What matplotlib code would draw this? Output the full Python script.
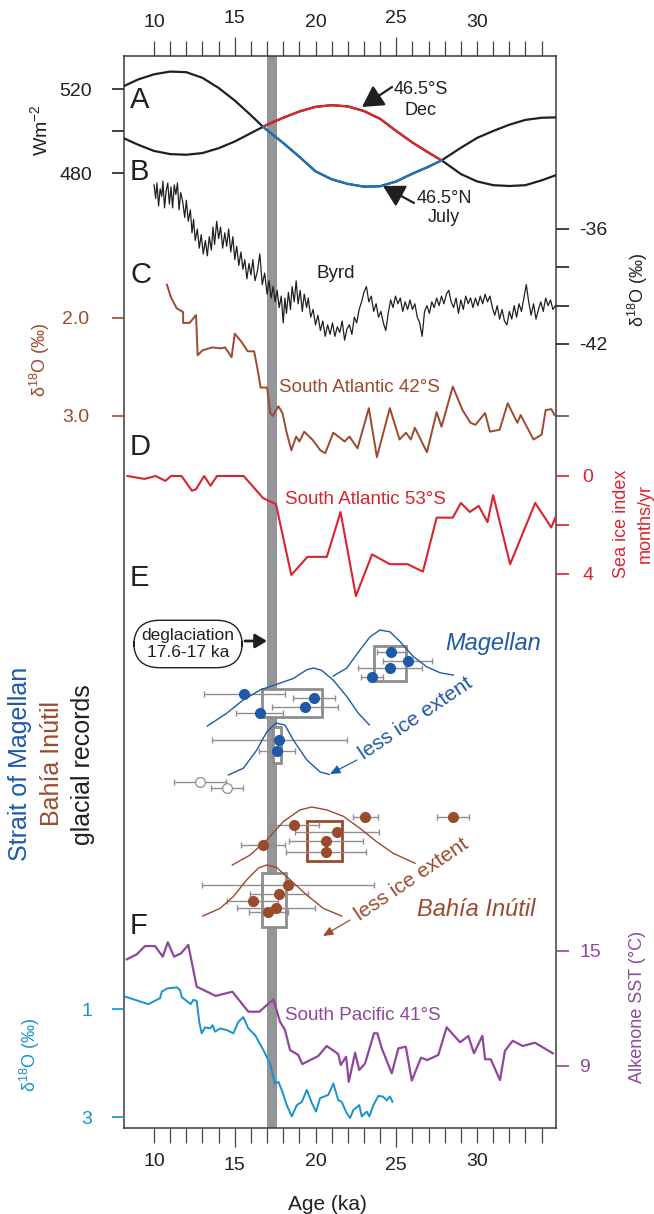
import numpy as np
import matplotlib.pyplot as plt
from matplotlib.patches import Rectangle

plt.rcParams['font.family'] = ['Liberation Sans', 'DejaVu Sans']
plt.rcParams['mathtext.fontset'] = 'custom'
plt.rcParams['mathtext.rm'] = 'Liberation Sans'
plt.rcParams['mathtext.it'] = 'Liberation Sans:italic'
plt.rcParams['mathtext.default'] = 'regular'

# ---------------- data ----------------
# A/B insolation (W m-2)
sdec_age = [8.14, 9, 10, 11, 12, 13, 14, 15, 16, 16.75, 17, 18, 19, 20, 21, 22, 23, 24, 25, 26,
            27, 27.8, 28, 29, 30, 31, 32, 33, 34, 34.9]
sdec_val = [496.5, 493.5, 490.5, 489, 488.7, 489.5, 491.8, 495, 499, 502, 503, 506.3, 509.3, 511.5,
            512.3, 511.7, 509.5, 505.8, 500, 494.5, 489.7, 486, 485, 479.5, 476, 474.2, 473.8,
            474.2, 476.5, 479]
njul_age = sdec_age
njul_val = [521.4, 524.5, 527, 528.3, 528, 525.3, 520.5, 514.5, 507.5, 502, 500.4, 494.3, 487.7,
            480.8, 477, 474.8, 473.5, 473.7, 476, 479.7, 483, 486, 487, 492, 496.7, 500, 503,
            505.3, 506.3, 506.5]
ins_cross = (16.75, 27.8)

# C Byrd d18O (permil)
byrd_age = [10.00, 10.10, 10.18, 10.28, 10.38, 10.48, 10.55, 10.65, 10.75, 10.85, 10.95, 11.05,
            11.15, 11.25, 11.35, 11.45, 11.55, 11.65, 11.78, 11.90, 12.00, 12.12, 12.25, 12.35,
            12.45, 12.55, 12.68, 12.80, 12.92, 13.05, 13.18, 13.30, 13.42, 13.55, 13.65, 13.75,
            13.88, 14.00, 14.12, 14.25, 14.38, 14.50, 14.62, 14.75, 14.88, 15.00, 15.12, 15.25,
            15.38, 15.50, 15.62, 15.75, 15.88, 16.00, 16.12, 16.25, 16.40, 16.55, 16.70, 16.85,
            17.00, 17.12, 17.25, 17.38, 17.50, 17.62, 17.75, 17.88, 18.00, 18.10, 18.20, 18.32,
            18.45, 18.55, 18.68, 18.80, 18.92, 19.05, 19.18, 19.30, 19.45, 19.55, 19.70, 19.85,
            20.00, 20.15, 20.30, 20.45, 20.60, 20.75, 20.90, 21.05, 21.20, 21.35, 21.50, 21.65,
            21.80, 21.95, 22.10, 22.25, 22.40, 22.55, 22.70, 22.85, 23.00, 23.15, 23.30, 23.45,
            23.60, 23.75, 23.90, 24.05, 24.20, 24.35, 24.50, 24.65, 24.80, 24.95, 25.10, 25.25,
            25.40, 25.55, 25.70, 25.85, 26.00, 26.15, 26.30, 26.45, 26.60, 26.75, 26.90, 27.05,
            27.20, 27.35, 27.50, 27.65, 27.80, 27.95, 28.10, 28.25, 28.40, 28.55, 28.70, 28.85,
            29.00, 29.15, 29.30, 29.45, 29.60, 29.75, 29.90, 30.05, 30.20, 30.35, 30.50, 30.65,
            30.80, 30.95, 31.10, 31.25, 31.40, 31.55, 31.70, 31.85, 32.00, 32.15, 32.30, 32.45,
            32.60, 32.75, 32.90, 33.05, 33.20, 33.35, 33.50, 33.65, 33.80, 33.95, 34.10, 34.25,
            34.40, 34.55, 34.70, 34.85]
byrd_val = [-33.7, -34.4, -33.6, -34.8, -33.9, -34.3, -33.5, -34.9, -34.0, -33.6, -34.7, -33.8,
            -34.9, -33.7, -34.2, -33.6, -35.0, -34.1, -34.6, -35.4, -34.5, -35.6, -35.0, -36.2,
            -35.5, -36.6, -36.0, -37.0, -36.3, -37.3, -36.6, -37.4, -36.4, -37.1, -35.9, -36.8,
            -35.6, -36.5, -35.9, -37.0, -36.2, -36.9, -36.0, -37.2, -36.4, -37.6, -36.9, -37.9,
            -37.2, -38.1, -37.6, -38.6, -37.8, -38.4, -37.6, -38.7, -38.2, -37.3, -38.9, -38.3,
            -39.4, -38.7, -39.6, -39.0, -39.8, -39.2, -40.1, -39.5, -40.9, -39.6, -40.4, -39.3,
            -40.2, -39.0, -39.8, -38.7, -39.9, -39.2, -40.3, -39.4, -40.1, -39.6, -40.6, -40.2,
            -41.0, -40.5, -41.3, -40.8, -41.6, -41.0, -41.5, -40.9, -41.6, -41.1, -41.4, -40.8,
            -41.8, -41.2, -41.0, -41.5, -40.6, -40.9, -40.2, -39.8, -39.3, -39.0, -39.8, -39.5,
            -40.3, -39.9, -40.6, -40.3, -40.9, -41.3, -40.4, -39.7, -40.1, -39.5, -39.9, -39.6,
            -40.3, -39.8, -40.2, -39.7, -40.2, -39.9, -40.6, -40.9, -41.6, -40.3, -40.0, -40.4,
            -39.8, -40.1, -39.6, -40.0, -39.5, -39.9, -39.4, -39.2, -39.8, -40.1, -39.6, -40.4,
            -39.7, -40.2, -39.5, -39.9, -39.6, -40.1, -39.6, -40.0, -39.5, -39.9, -39.4, -39.8,
            -39.5, -40.1, -40.5, -40.0, -40.7, -40.2, -40.8, -41.0, -40.3, -40.7, -40.0, -40.6,
            -39.9, -40.3, -39.6, -38.9, -39.8, -40.5, -39.9, -40.7, -40.2, -39.8, -40.3, -39.6,
            -40.0, -39.7, -40.2, -40.0]

# South Atlantic 42S benthic d18O (permil)
sa42_age = [10.8, 11.05, 11.4, 11.8, 11.8, 12.2, 12.6, 12.7, 13.0, 13.6, 14.15, 14.4, 14.8, 15.0,
            15.4, 15.8, 16.2, 16.45, 16.6, 17.0, 17.2, 17.35, 17.7, 17.95, 18.2, 18.5, 18.8, 19.0,
            19.3, 19.8, 20.3, 20.6, 21.1, 21.8, 22.1, 22.6, 23.3, 23.8, 24.6, 25.2, 25.6, 25.9,
            26.15, 26.9, 27.5, 27.8, 28.5, 29.1, 29.6, 29.9, 30.5, 30.8, 31.4, 31.9, 32.5, 32.7,
            33.5, 34.0, 34.25, 34.6, 34.8]
sa42_val = [1.66, 1.79, 1.9, 1.94, 2.05, 2.05, 1.97, 2.38, 2.33, 2.3, 2.31, 2.3, 2.4, 2.16, 2.24,
            2.34, 2.34, 2.56, 2.71, 2.71, 2.97, 3.0, 2.9, 2.97, 3.16, 3.35, 3.21, 3.26, 3.16, 3.24,
            3.35, 3.38, 3.17, 3.26, 3.21, 3.33, 2.92, 3.42, 2.92, 3.24, 3.17, 3.24, 3.12, 3.37,
            2.96, 3.11, 2.7, 2.94, 3.07, 3.09, 2.97, 3.16, 3.14, 2.87, 3.07, 2.99, 3.24, 3.19,
            2.94, 2.93, 2.99]

# D South Atlantic 53S sea ice index (months/yr)
ice_age = [8.35, 9.4, 10.1, 10.7, 11.05, 11.7, 12.35, 12.6, 13.1, 13.5, 13.9, 15.55, 16.75, 17.55,
           18.5, 19.5, 20.7, 21.55, 22.5, 23.5, 24.6, 25.7, 26.65, 27.5, 28.5, 29.0, 29.55, 30.1,
           30.65, 31.0, 32.05, 33.6, 34.6, 34.85]
ice_val = [0.0, 0.12, 0.0, 0.2, 0.0, 0.0, 0.6, 0.54, 0.0, 0.4, 0.0, 0.0, 0.9, 1.15, 4.04, 3.3, 3.3,
           1.47, 4.9, 3.2, 3.6, 3.6, 3.9, 1.7, 1.7, 1.1, 1.47, 1.22, 1.88, 0.78, 3.6, 1.1, 2.1, 1.7]

# E glacial records: ages (ka) and 1-sigma errors
mag_age = [24.7, 25.7, 24.6, 23.5, 15.6, 19.9, 19.35, 16.55, 17.76, 17.6]
mag_err = [0.9, 1.5, 2.0, 0.7, 2.5, 1.3, 2.05, 1.45, 4.2, 1.13]
mag_old_age = [12.85, 14.5]
mag_old_err = [1.6, 1.0]
mag_box_lo = [23.62, 16.69, 17.37]
mag_box_hi = [25.6, 20.4, 17.89]
mag_pdf_age = [[21.10, 21.93, 22.76, 23.37, 23.99, 24.61, 25.23, 26.06, 26.89, 27.71, 28.53],
               [13.30, 14.50, 15.53, 16.56, 17.60, 18.63, 19.46, 19.86, 20.38, 21.10, 21.93, 22.65, 23.33],
               [14.60, 15.53, 16.36, 16.98, 17.55, 18.11, 18.63, 19.46, 20.28, 20.86]]
mag_pdf_val = [[0.0, 0.17, 0.57, 0.85, 1.0, 0.96, 0.75, 0.42, 0.20, 0.07, 0.02],
               [0.0, 0.22, 0.45, 0.62, 0.72, 0.82, 0.97, 1.0, 0.96, 0.79, 0.51, 0.22, 0.02],
               [0.0, 0.13, 0.48, 0.83, 1.0, 0.96, 0.67, 0.29, 0.06, 0.01]]

bah_age = [23.07, 28.5, 18.69, 21.31, 20.65, 20.65, 16.73, 18.3, 17.73, 16.1, 17.55, 17.08]
bah_err = [0.77, 1.0, 1.5, 2.6, 2.3, 2.5, 1.35, 5.35, 1.78, 1.57, 2.4, 1.2]
bah_box_lo = [19.49, 16.71]
bah_box_hi = [21.61, 18.16]
bah_pdf_age = [[14.85, 15.94, 16.98, 18.01, 19.04, 19.76, 20.69, 21.72, 22.76, 23.79, 24.82, 26.16],
               [13.02, 14.09, 14.91, 15.74, 16.46, 16.98, 17.60, 18.42, 19.46, 20.48, 21.62]]
bah_pdf_val = [[0.0, 0.17, 0.43, 0.75, 0.95, 1.0, 0.95, 0.84, 0.63, 0.40, 0.20, 0.03],
               [0.0, 0.15, 0.38, 0.71, 0.94, 1.0, 0.95, 0.71, 0.41, 0.15, 0.0]]

deglaciation = (17.0, 17.6)

# F South Pacific 41S alkenone SST (C) and benthic d18O (permil)
sst_age = [8.31, 8.93, 9.44, 10.06, 10.54, 10.85, 11.24, 11.67, 12.12, 12.64, 13.82, 14.85, 15.84,
           16.52, 17.39, 17.8, 18.11, 18.42, 18.93, 19.18, 20.17, 20.69, 21.41, 21.56, 21.89, 22.06,
           22.45, 22.71, 23.07, 23.62, 23.83, 24.1, 24.72, 25.13, 25.59, 25.96, 26.53, 26.92, 27.6,
           28.12, 28.95, 29.46, 29.81, 30.33, 30.5, 30.85, 31.42, 31.73, 32.21, 32.83, 33.59, 34.69]
sst_val = [14.54, 14.8, 15.23, 15.23, 14.68, 15.43, 14.68, 14.85, 15.29, 13.12, 12.64, 12.86, 11.82,
           11.82, 12.46, 11.3, 10.87, 9.83, 9.57, 9.1, 9.52, 10.04, 9.62, 9.05, 9.48, 8.18, 9.69,
           8.79, 9.14, 10.7, 10.7, 9.92, 8.62, 9.92, 10.0, 8.24, 9.43, 9.31, 9.57, 11.01, 10.23,
           10.56, 9.66, 10.57, 9.35, 9.35, 8.27, 9.79, 10.31, 10.04, 10.21, 9.66]
sp_age = [8.2, 9.65, 10.37, 10.48, 10.79, 11.41, 11.61, 11.72, 12.06, 12.27, 12.43, 12.64, 12.8,
          12.95, 13.16, 13.47, 13.63, 13.78, 14.09, 14.5, 14.91, 15.22, 15.53, 15.84, 16.25, 16.77,
          17.18, 17.49, 17.7, 17.91, 18.22, 18.53, 18.84, 19.15, 19.46, 19.77, 20.03, 20.28, 20.79,
          21.1, 21.41, 21.62, 21.93, 22.14, 22.34, 22.71, 22.86, 23.17, 23.33, 23.58, 23.89, 24.16,
          24.41, 24.61, 24.76]
sp_val = [0.77, 0.91, 0.8, 0.68, 0.62, 0.6, 0.65, 0.78, 0.86, 0.91, 0.83, 0.85, 1.24, 1.45, 1.34,
          1.36, 1.3, 1.42, 1.36, 1.39, 1.45, 1.24, 1.15, 1.36, 1.48, 1.76, 2.01, 2.38, 2.35, 2.5,
          2.78, 2.99, 2.78, 2.72, 2.5, 2.74, 2.9, 2.65, 2.59, 2.38, 2.69, 2.72, 2.93, 3.02, 2.87,
          2.78, 2.99, 2.9, 2.99, 2.78, 2.61, 2.62, 2.69, 2.62, 2.72]

# ---------------- styles / layout ----------------
BLACK = '#231f20'
RED = '#e1262d'
BLUE = '#1c75bc'
BROWN = '#9c4a2d'
SEAICE = '#d9232e'
PURPLE = '#8e479c'
CYAN = '#1893d0'
MAGBLUE = '#1f59a8'
BAR = '#939598'
BOXGRAY = '#8d8d8d'
ERRGRAY = '#8f8f8f'

W, H = 654, 1214
FL, FR, FT, FB = 124, 556, 56, 1128
X0, X1 = 8.14, 34.89


def fpt(px, py):
    return (px / W, 1 - py / H)


def label(px, py, s, **kw):
    fig.text(px / W, 1 - py / H, s, **kw)


def arrow(p0, p1, color, style, lw, scale):
    ax.annotate('', xy=fpt(*p1), xytext=fpt(*p0), xycoords='figure fraction',
                textcoords='figure fraction',
                arrowprops=dict(arrowstyle=style, color=color, lw=lw, mutation_scale=scale,
                                shrinkA=0, shrinkB=0))


fig = plt.figure(figsize=(W / 100, H / 100), dpi=100)
rect = [FL / W, 1 - FB / H, (FR - FL) / W, (FB - FT) / H]

ax = fig.add_axes(rect)
ax.set_xlim(X0, X1)
ax.set_ylim(FB, FT)
ax.set_yticks([])
for s in ax.spines.values():
    s.set_color('#3a3a3a')
    s.set_linewidth(1.1)
ax.set_xticks([15, 25], labels=['15', '25'])
minor = [t for t in range(10, 35) if t not in (15, 25)]
ax.set_xticks(minor, labels=[str(t) if t % 10 == 0 else '' for t in minor], minor=True)
ax.tick_params(axis='x', which='both', top=True, labeltop=True, direction='out', color='#444',
               width=0.9, labelsize=14, pad=7, labelcolor=BLACK)
ax.tick_params(axis='x', which='major', length=14)
ax.tick_params(axis='x', which='minor', length=11)
ax.axvspan(*deglaciation, color=BAR, lw=0, zorder=0)


def panel_axis(v1, p1, v2, p2, side, ticks, labels, color, pad):
    a = fig.add_axes(rect)
    a.set_xlim(X0, X1)
    a.patch.set_visible(False)
    for s in a.spines.values():
        s.set_visible(False)
    a.set_xticks([])
    k = (v2 - v1) / (p2 - p1)
    a.set_ylim(v1 + (FB - p1) * k, v1 + (FT - p1) * k)
    a.yaxis.set_ticks_position(side)
    a.set_yticks(ticks, labels=labels)
    a.tick_params(axis='y', colors=color, length=9, width=1.2, labelsize=14, pad=pad)
    return a


# A / B insolation
ai = panel_axis(520, 89, 480, 173, 'left', [480, 500, 520], ['480', '', '520'], BLACK, 14)
sd_a, sd_v = np.array(sdec_age), np.array(sdec_val)
nj_a, nj_v = np.array(njul_age), np.array(njul_val)
m = (sd_a >= ins_cross[0]) & (sd_a <= ins_cross[1])
ai.plot(sd_a, sd_v, color=BLACK, lw=1.6)
ai.plot(nj_a, nj_v, color=BLACK, lw=1.6)
ai.plot(sd_a[m], sd_v[m], color=RED, lw=1.6)
ai.plot(nj_a[m], nj_v[m], color=BLUE, lw=1.6)

# C Byrd
ab = panel_axis(-36, 229, -42, 344, 'right', [-42, -40, -38, -36], ['-42', '', '', '-36'], BLACK, 8)
ab.plot(byrd_age, byrd_val, color=BLACK, lw=0.9)

# South Atlantic 42S
asa = panel_axis(2.0, 318, 3.0, 416, 'left', [2.0, 3.0], ['2.0', '3.0'], BROWN, 16)
asa.plot(sa42_age, sa42_val, color=BROWN, lw=1.4)
sec = asa.secondary_yaxis('right')
sec.set_yticks([3.0], labels=[''])
sec.tick_params(axis='y', colors='#444', length=9, width=1.1)
sec.spines['right'].set_visible(False)

# D sea ice
aice = panel_axis(0, 476, 4, 574, 'right', [0, 2, 4], ['0', '', '4'], SEAICE, 10)
aice.plot(ice_age, ice_val, color=SEAICE, lw=1.5)

# F SST and d18O
asst = panel_axis(15, 950.5, 9, 1066, 'right', [9, 15], ['9', '15'], PURPLE, 8)
asst.plot(sst_age, sst_val, color=PURPLE, lw=1.6)
asp = panel_axis(1, 1009, 3, 1117, 'left', [1, 3], ['1', '3'], CYAN, 14)
asp.plot(sp_age, sp_val, color=CYAN, lw=1.4)

# E glacial records (rows are drawn in figure pixel rows of the main axes)
mag_rows = [652, 661, 668, 677, 694, 698, 707, 713, 740, 751]
mag_old_rows = [782, 788]
mag_box_rows = [(646, 681), (689, 717), (727, 763)]
mag_pdf_base = [(676, 46), (726, 58), (775, 52)]
bah_rows = [817, 817, 825, 832, 841, 852, 845, 885, 894, 901, 908, 912]
bah_box_rows = [(821, 861), (873, 927)]
bah_box_col = [BROWN, BOXGRAY]
bah_pdf_base = [(865, 58), (916, 51)]

for lo, hi, (y0, y1) in zip(mag_box_lo, mag_box_hi, mag_box_rows):
    ax.add_patch(Rectangle((lo, y0), hi - lo, y1 - y0, fc='white', ec=BOXGRAY, lw=2, zorder=2))
for lo, hi, (y0, y1), c in zip(bah_box_lo, bah_box_hi, bah_box_rows, bah_box_col):
    ax.add_patch(Rectangle((lo, y0), hi - lo, y1 - y0, fc='white', ec=c, lw=2, zorder=2))

ax.errorbar(mag_age, mag_rows, xerr=mag_err, fmt='none', ecolor=ERRGRAY, elinewidth=1,
            capsize=2, zorder=3)
ax.errorbar(mag_old_age, mag_old_rows, xerr=mag_old_err, fmt='none', ecolor=ERRGRAY,
            elinewidth=1, capsize=2, zorder=3)
ax.errorbar(bah_age, bah_rows, xerr=bah_err, fmt='none', ecolor=ERRGRAY, elinewidth=1,
            capsize=2, zorder=3)

for xs, ys, (base, h) in zip(mag_pdf_age, mag_pdf_val, mag_pdf_base):
    ax.plot(xs, base - h * np.array(ys), color=MAGBLUE, lw=1.0, zorder=4)
for xs, ys, (base, h) in zip(bah_pdf_age, bah_pdf_val, bah_pdf_base):
    ax.plot(xs, base - h * np.array(ys), color=BROWN, lw=1.0, zorder=4)

ax.plot(mag_age, mag_rows, 'o', ms=7, color=MAGBLUE, mec=MAGBLUE, zorder=5)
ax.plot(mag_old_age, mag_old_rows, 'o', ms=7, mfc='white', mec=ERRGRAY, mew=0.9, zorder=5)
ax.plot(bah_age, bah_rows, 'o', ms=7, color=BROWN, mec=BROWN, zorder=5)

# ---------------- text ----------------
for s, (px, py) in zip('ABCDEF', [(130, 100), (130, 172), (130, 275), (130, 447), (130, 578), (130, 926)]):
    label(px, py, s, fontsize=21, ha='left', va='center', color=BLACK)

label(421, 100, '46.5°S\nDec', fontsize=13, ha='center', va='center', linespacing=1.3, color=BLACK)
label(444, 208, '46.5°N\nJuly', fontsize=13, ha='center', va='center', linespacing=1.2, color=BLACK)
arrow((392, 87), (362, 107), BLACK, '-|>,head_length=0.8,head_width=0.45', 1.6, 16)
arrow((414, 203), (383, 186), BLACK, '-|>,head_length=0.8,head_width=0.45', 1.6, 16)

label(336, 273, 'Byrd', fontsize=13.5, ha='center', va='center', color=BLACK)
label(279, 387, 'South Atlantic 42°S', fontsize=13.5, ha='left', va='center', color=BROWN)
label(285, 499, 'South Atlantic 53°S', fontsize=13.5, ha='left', va='center', color=SEAICE)
label(285, 1015, 'South Pacific 41°S', fontsize=13.5, ha='left', va='center', color=PURPLE)

label(188, 644, 'deglaciation\n17.6-17 ka', fontsize=12.5, ha='center', va='center',
      linespacing=1.15, color=BLACK,
      bbox=dict(boxstyle='round,pad=0.45,rounding_size=1.5', fc='white', ec=BLACK, lw=1))
arrow((245, 641), (267, 641), BLACK, '-|>,head_length=0.5,head_width=0.3', 2, 14)

label(445, 643, 'Magellan', fontsize=17, style='italic', ha='left', va='center', color=MAGBLUE)
label(417, 910, 'Bahía Inútil', fontsize=17, style='italic', ha='left', va='center', color=BROWN)
label(416, 718, 'less ice extent', fontsize=15, rotation=34, ha='center', va='center',
      rotation_mode='anchor', color=MAGBLUE)
label(412, 879, 'less ice extent', fontsize=15, rotation=34, ha='center', va='center',
      rotation_mode='anchor', color=BROWN)
arrow((357, 760), (330, 774), MAGBLUE, '-|>,head_length=0.5,head_width=0.22', 0.9, 12)
arrow((350, 920), (323, 936), BROWN, '-|>,head_length=0.5,head_width=0.22', 0.9, 12)

# axis titles
label(40, 130, 'Wm$^{-2}$', fontsize=14, rotation=90, ha='center', va='center', color=BLACK)
label(40, 360, 'δ$^{18}$O (‰)', fontsize=13, rotation=90, ha='center', va='center', color=BROWN)
label(20, 764, 'Strait of Magellan', fontsize=18, rotation=90, ha='center', va='center', color=MAGBLUE)
label(52, 764, 'Bahía Inútil', fontsize=18, rotation=90, ha='center', va='center', color=BROWN)
label(83, 765, 'glacial records', fontsize=18, rotation=90, ha='center', va='center', color=BLACK)
label(30, 1055, 'δ$^{18}$O (‰)', fontsize=13, rotation=90, ha='center', va='center', color=CYAN)
label(638, 290, 'δ$^{18}$O (‰)', fontsize=13, rotation=90, ha='center', va='center', color=BLACK)
label(622, 524, 'Sea ice index', fontsize=13, rotation=90, ha='center', va='center', color=SEAICE)
label(645, 524, 'months/yr', fontsize=13, rotation=90, ha='center', va='center', color=SEAICE)
label(637, 1007, 'Alkenone SST (°C)', fontsize=13, rotation=90, ha='center', va='center', color=PURPLE)
label(327, 1204, 'Age (ka)', fontsize=15, ha='center', va='center', color=BLACK)

fig.savefig('out.png', dpi=100)
